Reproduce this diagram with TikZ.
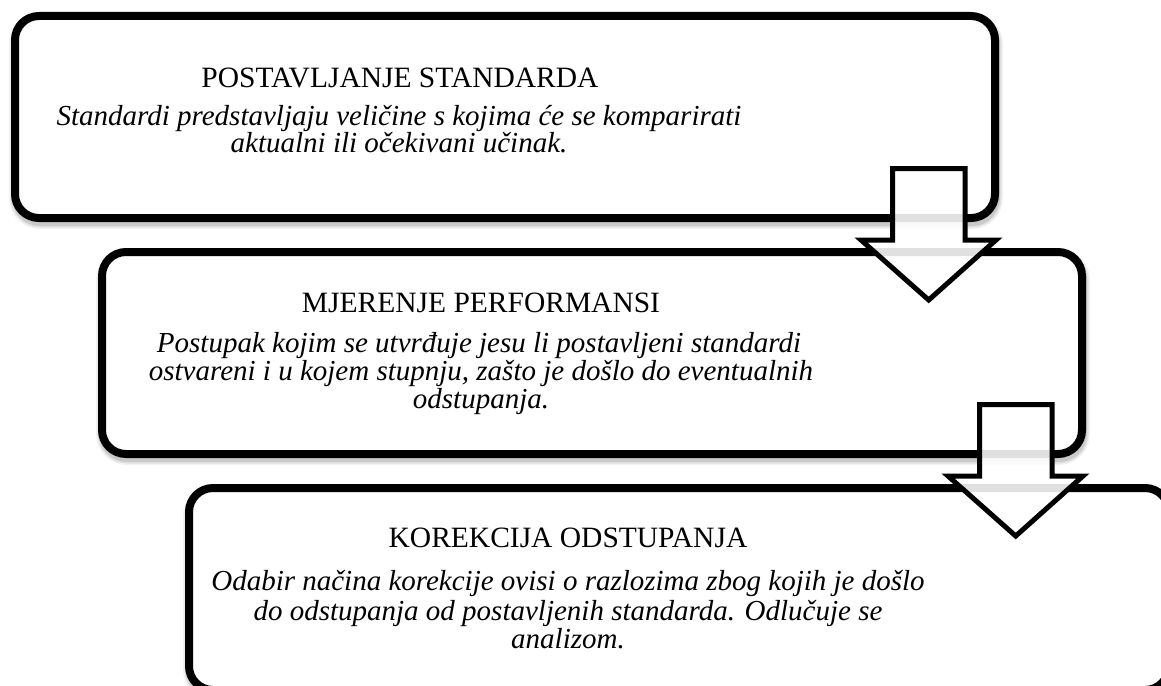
\documentclass[tikz,border=0pt]{standalone}
\usepackage{fontspec}
\setmainfont{Liberation Serif}
\begin{document}
\begin{tikzpicture}[x=1pt,y=-1pt,
  box/.style={draw=black, line width=8pt, rounded corners=24pt, fill=white,
    minimum width=980pt, minimum height=202pt, inner sep=0pt},
  ttl/.style={anchor=base, font=\fontsize{29.5}{29.5}\selectfont, inner sep=0pt},
  txt/.style={anchor=base, font=\fontsize{29}{29}\selectfont\itshape, inner sep=0pt},
  blockarrow/.style={draw=black, line width=5pt, fill=white, fill opacity=0.88,
    line join=miter, miter limit=10}]
\useasboundingbox (0,0) rectangle (1161,685);
\clip (0,0) rectangle (1161,685);
% soft shadows (mostly below the boxes)
\foreach \cx/\cy in {505/117, 592/353, 679/589} {
  \foreach \w/\o in {14/0.05, 11/0.07, 8/0.10} {
    \draw[black, opacity=\o, line width=\w pt, rounded corners=24pt]
      (\cx-489, \cy-97) rectangle (\cx+491, \cy+105);
  }
}
% boxes
\node[box] (b1) at (505,117) {};
\node[box] (b2) at (592,353) {};
\node[box] (b3) at (679,589) {};
% texts box 1
\node[ttl] (t1) at (400,88) {POSTAVLJANJE STANDARDA};
\node[txt] (t1a) at (399,125) {Standardi predstavljaju veličine s kojima će se komparirati};
\node[txt] (t1b) at (399,152) {aktualni ili očekivani učinak.};
% texts box 2
\node[ttl] (t2) at (481,312) {MJERENJE PERFORMANSI};
\node[txt] (t2a) at (479,352) {Postupak kojim se utvrđuje jesu li postavljeni standardi};
\node[txt] (t2b) at (481,380) {ostvareni i u kojem stupnju, zašto je došlo do eventualnih};
\node[txt] (t2c) at (481,408) {odstupanja.};
% texts box 3
\node[ttl] (t3) at (568,547) {KOREKCIJA ODSTUPANJA};
\node[txt] (t3a) at (568,590) {Odabir načina korekcije ovisi o razlozima zbog kojih je došlo};
\node[txt] (t3b) at (568,620) {do odstupanja od postavljenih standarda. Odlučuje se};
\node[txt] (t3c) at (568,648) {analizom.};
% block arrows
\draw[blockarrow] (892.5,168.5) -- (965,168.5) -- (965,240) -- (996,240)
  -- (928.7,300) -- (861,240) -- (892.5,240) -- cycle;
\draw[blockarrow] (979.5,404.5) -- (1052,404.5) -- (1052,476) -- (1083,476)
  -- (1015.7,536) -- (948,476) -- (979.5,476) -- cycle;
\end{tikzpicture}
\end{document}
